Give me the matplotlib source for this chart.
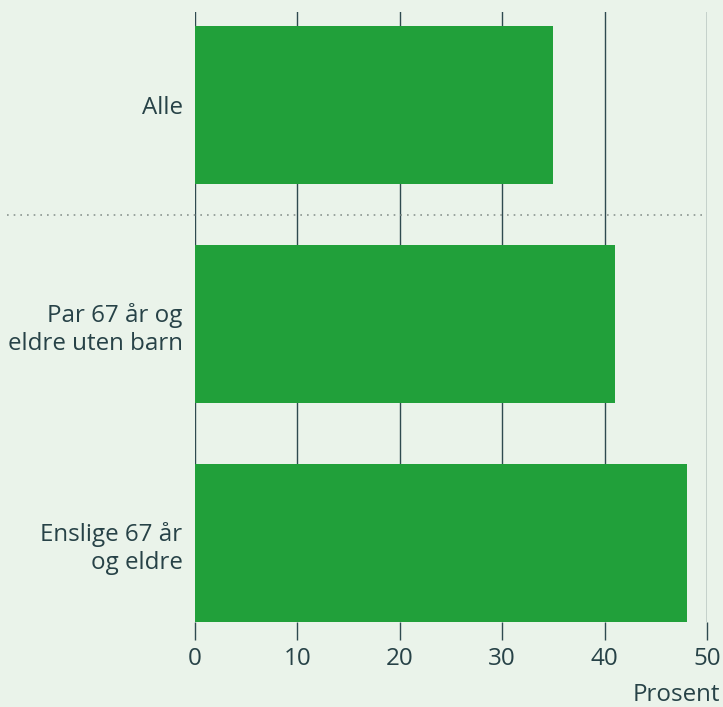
import matplotlib.pyplot as plt
from matplotlib.transforms import blended_transform_factory

categories = ["Alle", "Par 67 år og\neldre uten barn", "Enslige 67 år\nog eldre"]
values = [35, 41, 48]
xticks = [0, 10, 20, 30, 40, 50]

bg = "#eaf3ea"
green = "#21a03a"
ink = "#274247"
grid = "#2f4a50"
fs = 17.4

plt.rcParams["font.family"] = ["Open Sans", "DejaVu Sans"]

fig = plt.figure(figsize=(7.23, 7.07), dpi=100, facecolor=bg)
# axes box in pixels: x 195..707, y 12..622 (from top)
W, H = 723, 707
ax = fig.add_axes([195 / W, (H - 622) / H, (707 - 195) / W, (622 - 12) / H])
ax.set_facecolor(bg)

ypos = [2, 1, 0]
ax.barh(ypos, values, height=0.72, color=green, zorder=3)

ax.set_xlim(0, 50)
ax.set_ylim(-0.36, 2.425)
ax.set_xticks(xticks)
ax.set_xticklabels([str(t) for t in xticks], fontsize=fs, color=ink)
ax.set_yticks(ypos)
ax.set_yticklabels(categories, fontsize=fs, color=ink, linespacing=1.24)
ax.tick_params(axis="y", length=0, pad=9)
ax.tick_params(axis="x", length=13, width=1, color=grid, pad=5)

for s in ax.spines.values():
    s.set_visible(False)
ax.grid(axis="x", color=grid, linewidth=1, zorder=1)
ax.set_axisbelow(True)

# dotted separator between "Alle" and the rest
trans = blended_transform_factory(ax.transAxes, ax.transData)
ax.plot([-0.367, 1.0], [1.5, 1.5], transform=trans, clip_on=False,
        color="#8a9590", linewidth=1.2, linestyle=(0, (1, 3)), zorder=2)

fig.text(720 / W, 1 - 695 / H, "Prosent", ha="right", va="center",
         fontsize=fs, color=ink)

fig.savefig("out.png", dpi=100, facecolor=bg)
